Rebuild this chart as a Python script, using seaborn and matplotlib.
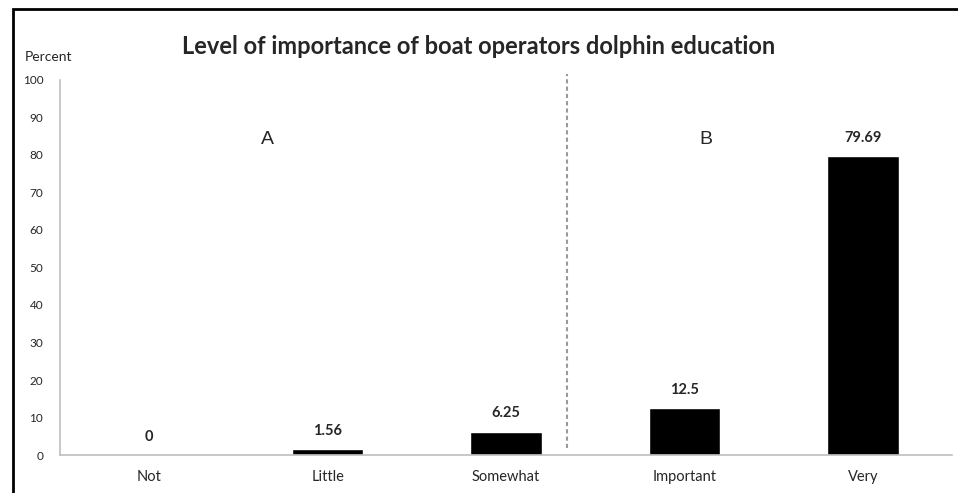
import matplotlib
matplotlib.use('Agg')
import matplotlib.pyplot as plt
import seaborn as sns
import pandas as pd
from matplotlib.patches import Rectangle

categories = ["Not", "Little", "Somewhat", "Important", "Very"]
percent = [0, 1.56, 6.25, 12.5, 79.69]
value_labels = ["0", "1.56", "6.25", "12.5", "79.69"]
yticks = [0, 10, 20, 30, 40, 50, 60, 70, 80, 90, 100]

df = pd.DataFrame({"level": categories, "percent": percent})

sns.set_theme(style="white")
plt.rcParams['font.family'] = ['Lato', 'DejaVu Sans']

fig = plt.figure(figsize=(9.58, 4.93), dpi=100)
ax = fig.add_axes([0.0626, 0.077, 0.9314, 0.761])

sns.barplot(data=df, x="level", y="percent", color="black", width=0.4,
            saturation=1, ax=ax)

ax.set_ylim(0, 100)
ax.set_xlim(-0.5, len(categories) - 0.5)
ax.set_yticks(yticks)
ax.set_yticklabels([str(t) for t in yticks], fontsize=8.5)
ax.tick_params(axis='x', labelsize=10.5, length=0, pad=11)
ax.tick_params(axis='y', length=0, pad=12)
ax.set_xlabel("")
ax.set_ylabel("")

for s in ["top", "right"]:
    ax.spines[s].set_visible(False)
for s in ["left", "bottom"]:
    ax.spines[s].set_color("#bfbfbf")
    ax.spines[s].set_linewidth(1.2)

# value labels above bars
for i, (v, lab) in enumerate(zip(percent, value_labels)):
    ax.annotate(lab, (i, v), xytext=(0, 8), textcoords="offset points",
                ha="center", va="bottom", fontsize=10.5, fontweight="bold")

# divider between the two groups
ax.plot([2.34, 2.34], [2, 101.6], color="#999999", linestyle=(0, (2, 1.5)),
        linewidth=1.5, clip_on=False)

ax.text(0.665, 84, "A", fontsize=14, ha="center", va="center",
        family=["Liberation Sans"])
ax.text(3.117, 84, "B", fontsize=14, ha="center", va="center",
        family=["Liberation Sans"])

fig.text(0.5, 0.905, "Level of importance of boat operators dolphin education",
         ha="center", va="center", fontsize=17, fontweight="bold")
fig.text(0.026, 0.885, "Percent", ha="left", va="center", fontsize=10)

# outer frame (only top and left edges fall inside the picture)
fig.patches.append(Rectangle((13 / 958, -0.1), 1.2, 1 - 9 / 493 + 0.1,
                             transform=fig.transFigure, fill=False,
                             edgecolor="black", linewidth=2))

fig.savefig("out.png", dpi=100)
